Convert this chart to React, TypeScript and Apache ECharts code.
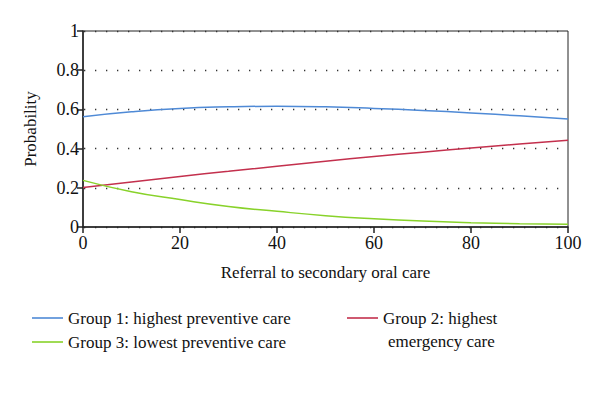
import React, { useEffect, useRef } from "react";
import * as echarts from "echarts";

const xValues = [0, 10, 20, 30, 40, 50, 60, 70, 80, 90, 100];
const group1 = [0.563, 0.588, 0.605, 0.613, 0.616, 0.613, 0.605, 0.595, 0.582, 0.567, 0.551];
const group2 = [0.202, 0.23, 0.258, 0.284, 0.31, 0.335, 0.36, 0.382, 0.403, 0.423, 0.442];
const group3 = [0.238, 0.18, 0.14, 0.105, 0.08, 0.058, 0.042, 0.03, 0.022, 0.017, 0.014];

const names = [
  "Group 1: highest preventive care",
  "Group 2: highest",
  "Group 3: lowest preventive care",
];
const colors = ["#4f8ad6", "#c3304d", "#88d22a"];

const FONT = "Liberation Serif";

export default function App() {
  const ref = useRef<HTMLDivElement>(null);
  useEffect(() => {
    const chart = echarts.init(ref.current!, undefined, { renderer: "svg" });
    const mk = (d: number[]) => xValues.map((x, i) => [x, d[i]]);
    const series = [group1, group2, group3].map((d, i) => ({
      name: names[i],
      type: "line",
      data: mk(d),
      smooth: true,
      symbol: "none",
      lineStyle: { color: colors[i], width: 1.5 },
      itemStyle: { color: colors[i] },
    }));
    const legendCommon = {
      orient: "vertical",
      top: 309,
      padding: 0,
      icon: "rect",
      itemWidth: 31,
      itemHeight: 1.6,
      itemGap: 6,
      textStyle: { fontFamily: FONT, fontSize: 17, color: "#111", lineHeight: 18 },
    };
    chart.setOption({
      animation: false,
      backgroundColor: "#fff",
      grid: {
        left: 83,
        right: 32,
        top: 31,
        height: 196,
        show: true,
        borderColor: "#222",
        borderWidth: 1,
        backgroundColor: "transparent",
      },
      xAxis: {
        type: "value",
        min: 0,
        max: 100,
        interval: 20,
        name: "Referral to secondary oral care",
        nameLocation: "middle",
        nameGap: 37,
        nameTextStyle: { fontFamily: FONT, fontSize: 17, color: "#111" },
        axisLine: { lineStyle: { color: "#222", width: 1.5 } },
        axisTick: { show: true, length: 6, lineStyle: { color: "#222", width: 1.5 } },
        axisLabel: { fontFamily: FONT, fontSize: 18, color: "#111", margin: 7 },
        splitLine: { show: false },
      },
      yAxis: {
        type: "value",
        min: 0,
        max: 1,
        interval: 0.2,
        name: "Probability",
        nameLocation: "middle",
        nameGap: 44,
        nameTextStyle: { fontFamily: FONT, fontSize: 17, color: "#111" },
        axisLine: { show: true, lineStyle: { color: "#222", width: 1.5 } },
        axisTick: { show: true, length: 6, lineStyle: { color: "#222", width: 1.5 } },
        axisLabel: { fontFamily: FONT, fontSize: 18, color: "#111", margin: 4 },
        splitLine: {
          show: true,
          lineStyle: { color: "#333", width: 1.3, type: [1.3, 9.7], dashOffset: -1 },
        },
      },
      legend: [
        { ...legendCommon, data: [names[0], names[2]], left: 32 },
        { ...legendCommon, data: [names[1]], left: 347 },
      ],
      graphic: [
        {
          type: "text",
          left: 388,
          top: 333,
          style: {
            text: "emergency care",
            fontFamily: FONT,
            fontSize: 17,
            fill: "#111",
          },
        },
      ],
      series,
    });
    return () => chart.dispose();
  }, []);
  return <div ref={ref} style={{ width: 600, height: 400, position: "absolute", left: 0, top: 0 }} />;
}
